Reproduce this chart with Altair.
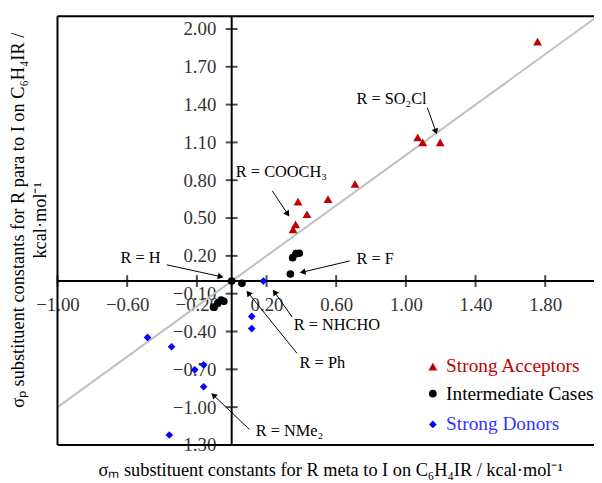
import math
import altair as alt
import pandas as pd

# ---------------- data ----------------
acc_x = [1.756, 1.068, 1.097, 1.197, 0.708, 0.553, 0.432, 0.381, 0.367, 0.352]
acc_y = [1.90, 1.14, 1.10, 1.10, 0.77, 0.65, 0.53, 0.63, 0.45, 0.41]
int_x = [0.0, 0.059, 0.337, 0.350, 0.369, 0.388, -0.104, -0.080, -0.060, -0.045]
int_y = [0.0, -0.018, 0.056, 0.186, 0.218, 0.221, -0.207, -0.175, -0.150, -0.160]
don_x = [0.182, 0.115, 0.115, -0.483, -0.345, -0.212, -0.161, -0.161, -0.358]
don_y = [0.0, -0.28, -0.377, -0.447, -0.521, -0.704, -0.665, -0.838, -1.221]

x_ticks = [-1.0, -0.6, -0.2, 0.2, 0.6, 1.0, 1.4, 1.8]
y_ticks = [-1.3, -1.0, -0.7, -0.4, -0.1, 0.2, 0.5, 0.8, 1.1, 1.4, 1.7, 2.0]

ref_line_x = [-1.0, 2.1]
ref_line_y = [-1.0, 2.1]

ann_text = ["R = SO₂Cl", "R = COOCH₃", "R = H", "R = F", "R = NHCHO", "R = Ph", "R = NMe₂"]
ann_x = [0.716, 0.024, -0.638, 0.716, 0.356, 0.390, 0.138]
ann_y = [1.442, 0.862, 0.182, 0.174, -0.351, -0.647, -1.189]
arr_x0 = [1.123, 0.233, -0.373, 0.678, 0.347, 0.375, 0.101]
arr_y0 = [1.376, 0.716, 0.129, 0.160, -0.285, -0.573, -1.176]
arr_x1 = [1.180, 0.334, -0.041, 0.385, 0.233, 0.081, -0.121]
arr_y1 = [1.156, 0.506, 0.029, 0.064, -0.062, -0.070, -0.883]

legend_names = ["Strong Acceptors", "Intermediate Cases", "Strong Donors"]
legend_colors = ["#C00000", "#000000", "#3333FF"]
marker_colors = ["#C00000", "#000000", "#0000FF"]
legend_shapes = ["triangle-up", "circle", "diamond"]
marker_sizes = [80, 60, 60]
legend_mx = [1.155, 1.155, 1.155]
legend_tx = [1.231, 1.231, 1.231]
legend_y = [-0.678, -0.893, -1.137]

x_title = "σₘ substituent constants for R meta to I on C₆H₄IR / kcal·mol⁻¹"
y_title = "σₚ substituent constants for R para to I on C₆H₄IR /\nkcal·mol⁻¹"

# ---------------- layout ----------------
W, H = 542, 433
XD = [-1.0, 2.08]
YD = [-1.3, 2.1]
PXX = W / (XD[1] - XD[0])
PXY = H / (YD[1] - YD[0])
FONT = "Liberation Serif"

xscale = alt.Scale(domain=XD, nice=False, zero=False)
yscale = alt.Scale(domain=YD, nice=False, zero=False)

xaxis = alt.Axis(values=x_ticks, format=".2f", offset=-(0 - YD[0]) * PXY,
                 domain=False, ticks=False, tickSize=0, grid=False,
                 labelFont=FONT, labelFontSize=19, labelColor="#333333",
                 labelPadding=15, labelFlush=False, labelOverlap=False, title=None)
yaxis = alt.Axis(values=y_ticks, format=".2f", offset=-(0 - XD[0]) * PXX,
                 domain=False, ticks=False, tickSize=0, grid=False,
                 labelFont=FONT, labelFontSize=19, labelColor="#333333",
                 labelPadding=16, labelOverlap=False, labelFlush=False, title=None)


def X(f):
    return alt.X(f, type="quantitative", scale=xscale, axis=xaxis)


def Y(f):
    return alt.Y(f, type="quantitative", scale=yscale, axis=yaxis)


# ---------------- tables ----------------
series = [(acc_x, acc_y), (int_x, int_y), (don_x, don_y)]
line_df = pd.DataFrame({"x": ref_line_x, "y": ref_line_y})
xt_df = pd.DataFrame({"x": x_ticks, "y": [0.0] * len(x_ticks)})
yt_df = pd.DataFrame({"x": [0.0] * len(y_ticks), "y": y_ticks})
ann_df = pd.DataFrame({"x": ann_x, "y": ann_y, "t": ann_text})

# arrows: shaft end slightly before tip, head rotated along direction
rows = []
for x0, y0, x1, y1 in zip(arr_x0, arr_y0, arr_x1, arr_y1):
    dxp = (x1 - x0) * PXX
    dyp = -(y1 - y0) * PXY
    L = math.hypot(dxp, dyp)
    ux, uy = dxp / L, dyp / L
    back = 4.0
    hx = x1 - ux * back / PXX
    hy = y1 + uy * back / PXY
    ang = math.degrees(math.atan2(dxp, -dyp)) % 360
    rows.append({"x0": x0, "y0": y0, "hx": hx, "hy": hy, "ang": ang})
arr_df = pd.DataFrame(rows)

leg_df = pd.DataFrame({"mx": legend_mx, "tx": legend_tx, "y": legend_y,
                       "name": legend_names, "tc": legend_colors})

# ---------------- layers ----------------
frame_top = alt.Chart(pd.DataFrame({"y": [YD[1]]})).mark_rule(color="black", strokeWidth=2).encode(y=Y("y"))
frame_bot = alt.Chart(pd.DataFrame({"y": [YD[0]]})).mark_rule(color="black", strokeWidth=2).encode(y=Y("y"))
frame_left = alt.Chart(pd.DataFrame({"x": [XD[0]]})).mark_rule(color="black", strokeWidth=2).encode(x=X("x"))
axis_h = alt.Chart(pd.DataFrame({"y": [0.0]})).mark_rule(color="black", strokeWidth=2).encode(y=Y("y"))
axis_v = alt.Chart(pd.DataFrame({"x": [0.0]})).mark_rule(color="black", strokeWidth=2).encode(x=X("x"))

xticks_l = alt.Chart(xt_df).mark_tick(orient="vertical", size=12, thickness=2, color="black").encode(x=X("x"), y=Y("y"))
yticks_l = alt.Chart(yt_df).mark_tick(orient="horizontal", size=12, thickness=2, color="black").encode(x=X("x"), y=Y("y"))

ref = alt.Chart(line_df).mark_line(color="#BFBFBF", strokeWidth=2, clip=True).encode(x=X("x"), y=Y("y"))

point_layers = []
leg_layers = []
for (sx, sy), shp, col, sz, i in zip(series, legend_shapes, marker_colors, marker_sizes, range(3)):
    point_layers.append(
        alt.Chart(pd.DataFrame({"x": sx, "y": sy})).mark_point(
            shape=shp, filled=True, color=col, opacity=1, size=sz).encode(x=X("x"), y=Y("y")))
    leg_layers.append(
        alt.Chart(leg_df.iloc[[i]]).mark_point(
            shape=shp, filled=True, color=col, opacity=1, size=sz).encode(x=X("mx"), y=Y("y")))

shafts = alt.Chart(arr_df).mark_rule(color="black", strokeWidth=1).encode(
    x=X("x0"), y=Y("y0"), x2="hx", y2="hy")
heads = alt.Chart(arr_df).mark_point(shape="triangle-up", filled=True, color="black", opacity=1, size=45).encode(
    x=X("hx"), y=Y("hy"), angle=alt.Angle("ang:Q", scale=None))

ann = alt.Chart(ann_df).mark_text(font=FONT, fontSize=16.5, color="black", align="left", baseline="middle").encode(
    x=X("x"), y=Y("y"), text="t:N")

leg_text = alt.Chart(leg_df).mark_text(font=FONT, fontSize=19.5, align="left", baseline="middle").encode(
    x=X("tx"), y=Y("y"), text="name:N", color=alt.Color("tc:N", scale=None))

xt = alt.Chart(pd.DataFrame({"t": [x_title]})).mark_text(
    font=FONT, fontSize=18.5, color="black", align="center", baseline="middle").encode(
    x=alt.value(276), y=alt.value(458), text="t:N")
yt = alt.Chart(pd.DataFrame({"t": [y_title]})).mark_text(
    font=FONT, fontSize=18.5, color="black", align="center", baseline="middle",
    angle=270, lineBreak="\n", lineHeight=22).encode(
    x=alt.value(-40), y=alt.value(206), text="t:N")

chart = alt.layer(
    ref, axis_h, axis_v, xticks_l, yticks_l, frame_top, frame_bot, frame_left,
    *point_layers, shafts, heads, ann, *leg_layers, leg_text, xt, yt,
).properties(
    width=W, height=H,
    autosize=alt.AutoSizeParams(type="none"),
    padding={"left": 50, "top": 6, "right": 0, "bottom": 38},
).configure_view(stroke=None)

chart.save("out.html", embed_options={"renderer": "svg", "actions": False})
